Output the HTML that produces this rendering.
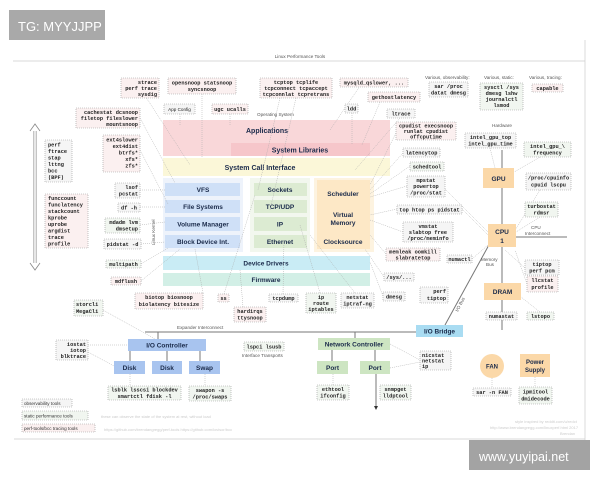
<!DOCTYPE html>
<html><head><meta charset="utf-8"><style>
html,body{margin:0;padding:0;background:#fff;width:600px;height:480px;overflow:hidden}
svg{display:block}
.m{font-family:"Liberation Mono",monospace;font-size:5.3px;font-weight:bold;fill:#222}
.s{font-family:"Liberation Sans",sans-serif;font-weight:bold;fill:#1a2a4a}
.l{font-family:"Liberation Sans",sans-serif;fill:#555;font-size:4.6px}
.t{fill:#f5f5f5;stroke:#999;stroke-width:.6;stroke-dasharray:1,1}
.g{fill:#f1f6f0;stroke:#999;stroke-width:.6;stroke-dasharray:1,1}
.p{fill:#fbf0f0;stroke:#999;stroke-width:.6;stroke-dasharray:1,1}
.c{stroke:#aaa;stroke-width:.5;stroke-dasharray:1,1;fill:none}
.h{stroke:#777;stroke-width:1;fill:none}
</style></head><body>
<svg width="600" height="480" viewBox="0 0 600 480" xmlns="http://www.w3.org/2000/svg">
<!-- frame -->
<line x1="13" y1="61" x2="585" y2="61" stroke="#ccc" stroke-width=".7"/>
<line x1="585" y1="40" x2="585" y2="440" stroke="#ccc" stroke-width=".7"/>
<line x1="14" y1="439" x2="585" y2="439" stroke="#ccc" stroke-width=".7"/>
<text x="300" y="58" class="l" text-anchor="middle" font-size="6">Linux Performance Tools</text>

<!-- layers background -->
<rect x="163" y="120" width="227" height="36" fill="#f9d7d9"/>
<rect x="231" y="143" width="139" height="13" fill="#f6c6ca"/>
<text x="300" y="152.5" class="s" font-size="7" text-anchor="middle">System Libraries</text>
<text x="267" y="133" class="s" font-size="7" text-anchor="middle">Applications</text>
<rect x="163" y="158" width="227" height="18" fill="#fbf7d8"/>
<text x="260" y="170" class="s" font-size="7" text-anchor="middle">System Call Interface</text>
<rect x="163" y="178" width="80" height="74" fill="#eef3fb"/>
<rect x="250" y="178" width="60" height="74" fill="#f2f7ee"/>
<rect x="314" y="178" width="60" height="74" fill="#fdf3e0"/>
<g class="s" font-size="6.5" text-anchor="middle">
<rect x="165" y="183" width="75" height="13" fill="#cfe0f7"/><text x="203" y="192">VFS</text>
<rect x="165" y="200" width="75" height="13" fill="#cfe0f7"/><text x="203" y="209">File Systems</text>
<rect x="165" y="217" width="75" height="14" fill="#cfe0f7"/><text x="203" y="226.5">Volume Manager</text>
<rect x="165" y="235" width="75" height="13" fill="#cfe0f7"/><text x="203" y="244">Block Device Int.</text>
<rect x="254" y="183" width="53" height="13" fill="#dcebd2"/><text x="280" y="192">Sockets</text>
<rect x="254" y="200" width="53" height="13" fill="#dcebd2"/><text x="280" y="209">TCP/UDP</text>
<rect x="254" y="217" width="53" height="14" fill="#dcebd2"/><text x="280" y="226.5">IP</text>
<rect x="254" y="235" width="53" height="13" fill="#dcebd2"/><text x="280" y="244">Ethernet</text>
<rect x="317" y="180" width="53" height="69" fill="#fde8c6"/>
<text x="343" y="196">Scheduler</text>
<text x="343" y="217">Virtual</text><text x="343" y="225">Memory</text>
<text x="343" y="244">Clocksource</text>
<rect x="163" y="256" width="207" height="14" fill="#c9ecf5"/><text x="266" y="265.5">Device Drivers</text>
<rect x="163" y="273" width="207" height="13" fill="#d2efe6"/><text x="266" y="282">Firmware</text>
</g>
<text x="155" y="245" class="l" font-size="4.2" transform="rotate(-90 155 245)">Linux Kernel</text>
<text x="257" y="116" class="l">Operating System</text>

<!-- left arrow -->
<line x1="35" y1="128" x2="35" y2="266" stroke="#888" stroke-width="3"/>
<line x1="35" y1="128" x2="35" y2="266" stroke="#fff" stroke-width="1.6"/>
<path d="M30,131 L35,124 L40,131 M30,263 L35,270 L40,263" stroke="#888" fill="#fff" stroke-width=".8"/>

<!-- connectors -->
<g class="c">
<path d="M140,88 L190,165"/><path d="M140,118 L175,183"/><path d="M140,150 L168,204"/>
<path d="M140,190 L165,190"/><path d="M140,207 L165,207"/><path d="M140,225 L165,222"/>
<path d="M141,244 L165,242"/><path d="M141,264 L168,248"/><path d="M141,281 L180,249"/>
<path d="M202,94 L202,158"/><path d="M180,114 L180,126"/><path d="M230,114 L230,126"/>
<path d="M296,98 L270,210"/><path d="M280,98 L258,190"/><path d="M360,86 L330,130"/>
<path d="M352,113 L352,145"/><path d="M380,102 L362,145"/><path d="M400,118 L355,170"/>
<path d="M396,133 L370,185"/><path d="M403,153 L370,190"/><path d="M410,166 L370,194"/>
<path d="M407,186 L370,197"/><path d="M397,209 L370,215"/><path d="M403,232 L370,220"/>
<path d="M386,254 L370,235"/><path d="M384,277 L365,249"/><path d="M383,296 L370,262"/>
<path d="M203,293 L195,249"/><path d="M224,294 L255,195"/><path d="M243,307 L240,270"/>
<path d="M283,294 L284,240"/><path d="M320,293 L300,225"/><path d="M355,293 L310,235"/>
<path d="M445,189 L488,232"/><path d="M462,209 L488,235"/><path d="M472,259 L488,245"/>
<path d="M490,148 L495,168"/><path d="M540,157 L514,172"/><path d="M540,190 L514,232"/>
<path d="M540,217 L516,232"/><path d="M525,268 L505,250"/><path d="M527,284 L515,250"/>
<path d="M502,300 L502,312"/><path d="M540,312 L521,297"/>
<path d="M103,310 L155,339"/><path d="M88,345 L128,345"/><path d="M88,352 L114,366"/>
<path d="M130,374 L130,386"/><path d="M205,374 L205,386"/>
<path d="M333,374 L333,385"/><path d="M390,344 L420,360"/><path d="M390,368 L420,362"/>
<path d="M492,378 L492,388"/><path d="M535,377 L535,387"/>
</g>

<!-- hardware lines -->
<g class="h">
<line x1="502" y1="150" x2="502" y2="330"/>
<line x1="516" y1="237" x2="567" y2="237"/>
<line x1="490" y1="243" x2="445" y2="325"/>
<line x1="145" y1="332" x2="416" y2="332"/>
<line x1="158" y1="332" x2="158" y2="339"/>
<line x1="130" y1="351" x2="130" y2="361"/><line x1="167" y1="351" x2="167" y2="361"/><line x1="200" y1="351" x2="200" y2="361"/>
<line x1="355" y1="332" x2="355" y2="338"/>
<line x1="332" y1="350" x2="332" y2="361"/><line x1="375" y1="350" x2="375" y2="361"/>
<line x1="376" y1="374" x2="376" y2="408"/>
</g>
<path d="M374,406 L376,410 L378,406Z" fill="#333"/>
<text x="458" y="312" class="l" font-size="4" transform="rotate(-63 458 312)">I/O Bus</text>

<!-- hardware components -->
<g class="s" font-size="6.5" text-anchor="middle">
<rect x="483" y="168" width="31" height="20" fill="#fbd8a8"/><text x="498.5" y="181">GPU</text>
<rect x="488" y="224" width="28" height="23" fill="#fbd8a8"/><text x="502" y="234">CPU</text><text x="502" y="243">1</text>
<rect x="484" y="283" width="37" height="17" fill="#fbd8a8"/><text x="502.5" y="294">DRAM</text>
<rect x="416" y="325" width="47" height="12" fill="#a9dcf2"/><text x="439.5" y="333.5">I/O Bridge</text>
<rect x="128" y="339" width="78" height="12" fill="#a8c4ef"/><text x="167" y="347.5">I/O Controller</text>
<rect x="114" y="361" width="31" height="13" fill="#a8c4ef"/><text x="129.5" y="370">Disk</text>
<rect x="152" y="361" width="30" height="13" fill="#a8c4ef"/><text x="167" y="370">Disk</text>
<rect x="189" y="361" width="31" height="13" fill="#a8c4ef"/><text x="204.5" y="370">Swap</text>
<rect x="318" y="338" width="72" height="12" fill="#cde5c2"/><text x="354" y="346.5">Network Controller</text>
<rect x="317" y="361" width="31" height="13" fill="#cde5c2"/><text x="332.5" y="370">Port</text>
<rect x="360" y="361" width="30" height="13" fill="#cde5c2"/><text x="375" y="370">Port</text>
<circle cx="492" cy="366" r="12" fill="#fbd8a8"/><text x="492" y="368.5" font-size="6">FAN</text>
<rect x="520" y="354" width="30" height="23" fill="#fbd8a8"/><text x="535" y="364" font-size="6">Power</text><text x="535" y="372" font-size="6">Supply</text>
</g>
<g class="l" font-size="4">
<text x="492" y="127">Hardware</text>
<text x="531" y="229">CPU</text><text x="525" y="235">Interconnect</text>
<text x="481" y="261">Memory</text><text x="486" y="266">Bus</text>
<text x="177" y="329">Expander Interconnect</text>
<text x="242" y="357">Interface Transports</text>
<text x="425" y="79">Various, observability:</text>
<text x="484" y="79">Various, static:</text>
<text x="529" y="79">Various, tracing:</text>
</g>

<!-- tool boxes -->
<g class="m">
<rect class="p" x="121" y="78" width="38" height="20"/><text x="157" y="84" text-anchor="end">strace</text><text x="157" y="90" text-anchor="end">perf trace</text><text x="157" y="96" text-anchor="end">sysdig</text>
<rect class="p" x="168" y="78" width="68" height="16"/><text x="202" y="84.5" text-anchor="middle">opensnoop statsnoop</text><text x="202" y="91" text-anchor="middle">syncsnoop</text>
<rect class="t" x="164" y="104" width="31" height="10"/><text x="179.5" y="111" text-anchor="middle" font-family="Liberation Sans" font-weight="normal" font-size="4.6">App Config</text>
<rect class="p" x="212" y="104" width="36" height="10"/><text x="230" y="111" text-anchor="middle">ugc ucalls</text>
<rect class="p" x="260" y="78" width="72" height="20"/><text x="296" y="84" text-anchor="middle">tcptop tcplife</text><text x="296" y="90" text-anchor="middle">tcpconnect tcpaccept</text><text x="296" y="96" text-anchor="middle">tcpconnlat tcpretrans</text>
<rect class="p" x="340" y="78" width="68" height="9"/><text x="374" y="84.5" text-anchor="middle">mysqld_qslower, ...</text>
<rect class="p" x="368" y="92" width="52" height="10"/><text x="394" y="99" text-anchor="middle">gethostlatency</text>
<rect class="t" x="345" y="104" width="13" height="9"/><text x="351.5" y="110.5" text-anchor="middle">ldd</text>
<rect class="t" x="387" y="109" width="28" height="9"/><text x="401" y="115.5" text-anchor="middle">ltrace</text>
<rect class="p" x="396" y="122" width="60" height="18"/><text x="426" y="127.5" text-anchor="middle">cpudist execsnoop</text><text x="426" y="133" text-anchor="middle">runlat cpudist</text><text x="426" y="138.5" text-anchor="middle">offcputime</text>
<rect class="t" x="403" y="148" width="37" height="9"/><text x="421.5" y="154.5" text-anchor="middle">latencytop</text>
<rect class="g" x="410" y="162" width="34" height="9"/><text x="427" y="168.5" text-anchor="middle">schedtool</text>
<rect class="t" x="407" y="176" width="38" height="21"/><text x="426" y="182" text-anchor="middle">mpstat</text><text x="426" y="188" text-anchor="middle">powertop</text><text x="426" y="194.5" text-anchor="middle">/proc/stat</text>
<rect class="t" x="397" y="205" width="65" height="9"/><text x="429.5" y="211.5" text-anchor="middle">top htop ps pidstat</text>
<rect class="t" x="403" y="222" width="50" height="20"/><text x="428" y="228" text-anchor="middle">vmstat</text><text x="428" y="234" text-anchor="middle">slabtop free</text><text x="428" y="240" text-anchor="middle">/proc/meminfo</text>
<rect class="p" x="386" y="248" width="54" height="13"/><text x="413" y="253.5" text-anchor="middle">memleak oomkill</text><text x="413" y="259.5" text-anchor="middle">slabratetop</text>
<rect class="t" x="384" y="273" width="30" height="8"/><text x="399" y="279" text-anchor="middle">/sys/...</text>
<rect class="t" x="383" y="292" width="22" height="9"/><text x="394" y="298.5" text-anchor="middle">dmesg</text>
<rect class="t" x="420" y="287" width="28" height="16"/><text x="446" y="293" text-anchor="end">perf</text><text x="446" y="300" text-anchor="end">tiptop</text>
<rect class="t" x="447" y="255" width="25" height="8"/><text x="459.5" y="261" text-anchor="middle">numactl</text>
<rect class="t" x="429" y="82" width="39" height="15"/><text x="448.5" y="88" text-anchor="middle">sar /proc</text><text x="448.5" y="94.5" text-anchor="middle">datat dmesg</text>
<rect class="g" x="480" y="83" width="43" height="27"/><text x="501.5" y="89" text-anchor="middle">sysctl /sys</text><text x="501.5" y="95" text-anchor="middle">dmesg lshw</text><text x="501.5" y="101" text-anchor="middle">journalctl</text><text x="501.5" y="107" text-anchor="middle">lsmod</text>
<rect class="p" x="532" y="84" width="31" height="8"/><text x="547.5" y="90" text-anchor="middle">capable</text>
<rect class="t" x="465" y="133" width="51" height="15"/><text x="490.5" y="139" text-anchor="middle">intel_gpu_top</text><text x="490.5" y="145.5" text-anchor="middle">intel_gpu_time</text>
<rect class="g" x="524" y="142" width="47" height="15"/><text x="547.5" y="148" text-anchor="middle">intel_gpu_\</text><text x="547.5" y="154.5" text-anchor="middle">frequency</text>
<rect class="t" x="526" y="173" width="45" height="17"/><text x="548.5" y="179.5" text-anchor="middle">/proc/cpuinfo</text><text x="548.5" y="186.5" text-anchor="middle">cpuid lscpu</text>
<rect class="g" x="525" y="202" width="33" height="15"/><text x="541.5" y="208" text-anchor="middle">turbostat</text><text x="541.5" y="214.5" text-anchor="middle">rdmsr</text>
<rect class="t" x="525" y="260" width="34" height="15"/><text x="542" y="266" text-anchor="middle">tiptop</text><text x="542" y="272.5" text-anchor="middle">perf pcm</text>
<rect class="p" x="527" y="276" width="31" height="16"/><text x="542.5" y="282" text-anchor="middle">llcstat</text><text x="542.5" y="289" text-anchor="middle">profile</text>
<rect class="t" x="486" y="312" width="31" height="8"/><text x="501.5" y="318" text-anchor="middle">numastat</text>
<rect class="g" x="527" y="312" width="27" height="8"/><text x="540.5" y="318" text-anchor="middle">lstopo</text>
<rect class="p" x="76" y="108" width="64" height="20"/><text x="138" y="114" text-anchor="end">cachestat dcsnoop</text><text x="138" y="120" text-anchor="end">filetop fileslower</text><text x="138" y="126" text-anchor="end">mountsnoop</text>
<rect class="p" x="103" y="135" width="37" height="37"/><text x="138" y="141.5" text-anchor="end">ext4slower</text><text x="138" y="148" text-anchor="end">ext4dist</text><text x="138" y="154.5" text-anchor="end">btrfs*</text><text x="138" y="161" text-anchor="end">xfs*</text><text x="138" y="167.5" text-anchor="end">zfs*</text>
<rect class="t" x="45" y="140" width="27" height="42"/><text x="48" y="146.5">perf</text><text x="48" y="153">ftrace</text><text x="48" y="159.5">stap</text><text x="48" y="166">lttng</text><text x="48" y="172.5">bcc</text><text x="48" y="179">(BPF)</text>
<rect class="p" x="45" y="194" width="43" height="54"/><text x="48" y="200">funccount</text><text x="48" y="206.5">funclatency</text><text x="48" y="213">stackcount</text><text x="48" y="219.5">kprobe</text><text x="48" y="226">uprobe</text><text x="48" y="232.5">argdist</text><text x="48" y="239">trace</text><text x="48" y="245.5">profile</text>
<rect class="t" x="115" y="183" width="25" height="15"/><text x="138" y="189" text-anchor="end">lsof</text><text x="138" y="195.5" text-anchor="end">pcstat</text>
<rect class="t" x="118" y="203" width="22" height="9"/><text x="129" y="209.5" text-anchor="middle">df -h</text>
<rect class="g" x="105" y="218" width="35" height="15"/><text x="138" y="224" text-anchor="end">mdadm lvm</text><text x="138" y="230.5" text-anchor="end">dmsetup</text>
<rect class="t" x="104" y="239" width="37" height="10"/><text x="122.5" y="246" text-anchor="middle">pidstat -d</text>
<rect class="g" x="106" y="260" width="35" height="8"/><text x="123.5" y="266" text-anchor="middle">multipath</text>
<rect class="p" x="111" y="277" width="30" height="8"/><text x="126" y="283" text-anchor="middle">mdflush</text>
<rect class="p" x="135" y="293" width="68" height="16"/><text x="169" y="299" text-anchor="middle">biotop biosnoop</text><text x="169" y="306" text-anchor="middle">biolatency bitesize</text>
<rect class="p" x="218" y="294" width="11" height="8"/><text x="223.5" y="300" text-anchor="middle">ss</text>
<rect class="p" x="234" y="307" width="32" height="15"/><text x="250" y="313" text-anchor="middle">hardirqs</text><text x="250" y="319.5" text-anchor="middle">ttysnoop</text>
<rect class="t" x="269" y="294" width="29" height="8"/><text x="283.5" y="300" text-anchor="middle">tcpdump</text>
<rect class="g" x="306" y="293" width="30" height="20"/><text x="321" y="299" text-anchor="middle">ip</text><text x="321" y="305" text-anchor="middle">route</text><text x="321" y="311" text-anchor="middle">iptables</text>
<rect class="t" x="341" y="293" width="33" height="15"/><text x="357.5" y="299" text-anchor="middle">netstat</text><text x="357.5" y="305.5" text-anchor="middle">iptraf-ng</text>
<rect class="g" x="74" y="300" width="29" height="16"/><text x="76" y="306">storcli</text><text x="76" y="313">MegaCli</text>
<rect class="t" x="56" y="340" width="32" height="20"/><text x="86" y="346" text-anchor="end">iostat</text><text x="86" y="352" text-anchor="end">iotop</text><text x="86" y="358" text-anchor="end">blktrace</text>
<rect class="g" x="108" y="386" width="73" height="14"/><text x="144.5" y="391.5" text-anchor="middle">lsblk lsscsi blockdev</text><text x="144.5" y="398" text-anchor="middle">smartctl  fdisk -l</text>
<rect class="g" x="189" y="386" width="42" height="15"/><text x="210" y="392" text-anchor="middle">swapon -s</text><text x="210" y="398.5" text-anchor="middle">/proc/swaps</text>
<rect class="g" x="244" y="342" width="40" height="9"/><text x="264" y="348.5" text-anchor="middle">lspci lsusb</text>
<rect class="t" x="420" y="351" width="31" height="19"/><text x="422" y="357">nicstat</text><text x="422" y="362.5">netstat</text><text x="422" y="368">ip</text>
<rect class="g" x="317" y="385" width="32" height="15"/><text x="333" y="391" text-anchor="middle">ethtool</text><text x="333" y="397.5" text-anchor="middle">ifconfig</text>
<rect class="g" x="380" y="385" width="31" height="15"/><text x="395.5" y="391" text-anchor="middle">snmpget</text><text x="395.5" y="397.5" text-anchor="middle">lldptool</text>
<rect class="t" x="473" y="388" width="38" height="8"/><text x="492" y="394" text-anchor="middle">sar -n FAN</text>
<rect class="g" x="519" y="387" width="33" height="17"/><text x="535.5" y="393.5" text-anchor="middle">ipmitool</text><text x="535.5" y="400.5" text-anchor="middle">dmidecode</text>
</g>

<!-- legend -->
<g font-family="Liberation Sans,sans-serif" font-size="4.6" fill="#333">
<rect class="t" x="22" y="399" width="50" height="8"/><text x="24" y="405">observability tools</text>
<rect class="g" x="22" y="411" width="66" height="9"/><text x="24" y="417.5">static performance tools</text>
<rect class="p" x="22" y="424" width="73" height="8"/><text x="24" y="430">perf-tools/bcc tracing tools</text>
</g>
<g font-family="Liberation Sans,sans-serif" font-size="4" fill="#ccc">
<text x="101" y="418">these can observe the state of the system at rest, without load</text>
<text x="104" y="431">https://github.com/brendangregg/perf-tools   https://github.com/iovisor/bcc</text>
<text x="515" y="423">style inspired by reddit.com/u/redct</text>
<text x="490" y="429">http://www.brendangregg.com/linuxperf.html 2017</text>
<text x="560" y="435">Brendan</text>
</g>

<!-- watermarks -->
<rect x="9" y="10" width="96" height="30" fill="#a9a9a9"/>
<text x="18" y="31" font-family="Liberation Sans,sans-serif" font-size="13" fill="#fff">TG: MYYJJPP</text>
<rect x="469" y="440" width="121" height="30" fill="#a3a3a3"/>
<text x="479" y="461" font-family="Liberation Sans,sans-serif" font-size="12.5" fill="#fff">www.yuyipai.net</text>
</svg>
</body></html>
